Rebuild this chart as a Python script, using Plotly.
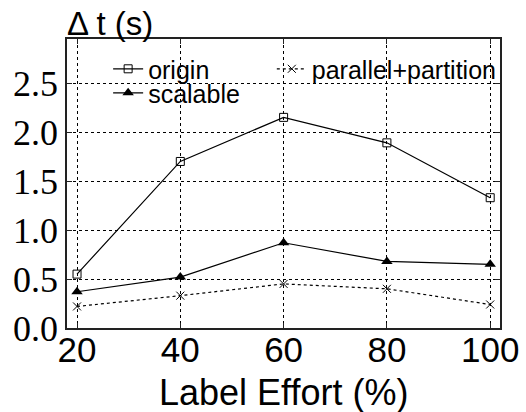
import plotly.graph_objects as go

x_vals = [20, 40, 60, 80, 100]
origin = [0.55, 1.70, 2.15, 1.89, 1.33]
scalable = [0.37, 0.52, 0.87, 0.68, 0.65]
parallel_partition = [0.22, 0.33, 0.45, 0.40, 0.24]
y_ticks = [0.0, 0.5, 1.0, 1.5, 2.0, 2.5]
y_tick_labels = ["0.0", "0.5", "1.0", "1.5", "2.0", "2.5"]

fig = go.Figure()
fig.add_trace(go.Scatter(
    x=x_vals, y=origin, name="origin", mode="lines+markers",
    line=dict(color="black", width=1.2),
    marker=dict(symbol="square-open", size=8, color="black", line=dict(width=1)),
    legend="legend"))
fig.add_trace(go.Scatter(
    x=x_vals, y=scalable, name="scalable", mode="lines+markers",
    line=dict(color="black", width=1.2),
    marker=dict(symbol="triangle-up", size=10, color="black"),
    legend="legend2"))
fig.add_trace(go.Scatter(
    x=x_vals, y=parallel_partition, name="parallel+partition", mode="lines+markers",
    line=dict(color="black", width=1.2, dash="dot"),
    marker=dict(symbol="x-thin-open", size=8, color="black", line=dict(width=1, color="black")),
    legend="legend3"))

axis_common = dict(
    showline=True, linecolor="#222", linewidth=1.5, mirror="ticks",
    ticks="inside", ticklen=5, tickcolor="#222",
    showgrid=True, gridcolor="black", gridwidth=1, griddash="dot",
    zeroline=False, automargin=False,
)

fig.update_xaxes(
    range=[18.06, 101.9], tickvals=x_vals, ticktext=[str(v) for v in x_vals],
    tickfont=dict(family="Liberation Sans", size=35, color="black"),
    ticklabelstandoff=-10,
    **axis_common)
fig.update_yaxes(
    range=[0, 2.95], tickvals=y_ticks, ticktext=y_tick_labels,
    tickfont=dict(family="Liberation Serif", size=36, color="black"),
    ticklabelstandoff=0,
    **axis_common)

legend_font = dict(family="Liberation Sans", size=25, color="black")
fig.update_layout(
    width=526, height=412,
    margin=dict(l=67, r=26, t=39, b=84),
    paper_bgcolor="white", plot_bgcolor="white",
    showlegend=True,
    legend=dict(x=0.095, y=0.896, xanchor="left", yanchor="middle", bgcolor="rgba(0,0,0,0)", font=legend_font),
    legend2=dict(x=0.095, y=0.813, xanchor="left", yanchor="middle", bgcolor="rgba(0,0,0,0)", font=legend_font),
    legend3=dict(x=0.473, y=0.896, xanchor="left", yanchor="middle", bgcolor="rgba(0,0,0,0)", font=legend_font),
    annotations=[
        dict(text="Δ t (s)", xref="paper", yref="paper", x=0, y=1, xanchor="left", yanchor="bottom",
             showarrow=False, yshift=-5, xshift=-2, font=dict(family="Liberation Sans", size=33, color="black")),
        dict(text="Label Effort (%)", xref="paper", yref="paper", x=0.5, y=0, xanchor="center", yanchor="middle",
             showarrow=False, yshift=-64, font=dict(family="Liberation Sans", size=36, color="black")),
    ],
)

fig.write_html("out.html", config={"displayModeBar": False},
               post_script="document.body.style.margin='0';document.body.style.overflow='hidden';")
